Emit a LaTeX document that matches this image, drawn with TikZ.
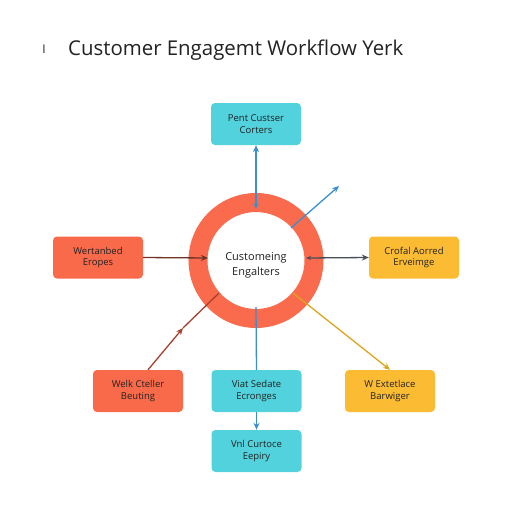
\documentclass[tikz,border=0pt]{standalone}
\usepackage{fontspec}
\setmainfont{Open Sans}
\usetikzlibrary{arrows.meta}
\definecolor{ringc}{HTML}{FA6A4C}
\definecolor{redbox}{HTML}{F96A4B}
\definecolor{cyanbox}{HTML}{52D2DC}
\definecolor{yelbox}{HTML}{FBBB33}
\definecolor{bluel}{HTML}{3A8FD0}
\definecolor{brownl}{HTML}{6E3426}
\definecolor{grayl}{HTML}{4A4E58}
\definecolor{redl}{HTML}{A8402E}
\definecolor{goldl}{HTML}{DDA51E}
\definecolor{txt}{HTML}{222222}
\begin{document}
\begin{tikzpicture}[x=1pt,y=-1pt,
  boxst/.style={rounded corners=4pt, minimum width=90pt, minimum height=42pt,
    inner sep=0pt, align=center, font=\fontsize{9.5}{11.5}\selectfont, text=txt},
  conn/.style={line width=1.3pt, -{Stealth[length=7pt,width=6pt]}}]
\useasboundingbox[fill=white] (0,0) rectangle (512,512);
% title
\node[anchor=base west, font=\fontsize{20.4}{24}\selectfont, text=txt, inner sep=0pt] (title) at (68,55) {Customer Engagemt Workflow Yerk};
\node[anchor=base, font=\fontsize{12}{14}\selectfont, text=txt, inner sep=0pt] (bar) at (44,53) {I};
% ring
\node[circle, draw=ringc, line width=19pt, minimum size=116pt, inner sep=0pt] (ring) at (256,260.5) {};
\node[align=center, font=\fontsize{11}{15}\selectfont, text=txt] (ctext) at (256,265) {Customeing\\Engalters};
% boxes
\node[boxst, fill=cyanbox] (top) at (256,124) {Pent Custser\\Corters};
\node[boxst, fill=redbox] (left) at (98,257.5) {Wertanbed\\Eropes};
\node[boxst, fill=yelbox] (right) at (414,257.5) {Crofal Aorred\\Erveimge};
\node[boxst, fill=redbox] (bl) at (138,391) {Welk Cteller\\Beuting};
\node[boxst, fill=cyanbox] (bc) at (256.5,391) {Viat Sedate\\Ecronges};
\node[boxst, fill=yelbox] (br) at (390,391) {W Extetlace\\Barwiger};
\node[boxst, fill=cyanbox] (bot) at (256.5,451) {Vnl Curtoce\\Eepiry};
% coordinates on ring
\coordinate (rtop) at (256,209);
\coordinate (rleft) at (208,258);
\coordinate (rright) at (306,258);
\coordinate (rdiag) at (291,228);
\coordinate (dfree) at (339,186);
\coordinate (rbl) at (219,293);
\coordinate (blmid) at (183,328);
\coordinate (rbr) at (293,293);
\coordinate (rbot) at (256,307);
% connectors
\draw[conn, bluel, {Stealth[length=6pt,width=5pt]}-{Stealth[length=7pt,width=6pt]}] (rtop) -- (top.south);
\draw[conn, bluel] (rdiag) -- (dfree);
\draw[conn, brownl] (left.east) -- (rleft);
\draw[conn, grayl, {Stealth[length=5pt,width=4pt]}-{Stealth[length=7pt,width=6pt]}] (rright) -- (right.west);
\draw[conn, redl] (bl.north) ++(10,0) coordinate (blst) (blst) -- (blmid);
\draw[line width=1.3pt, redl] (blmid) -- (rbl);
\draw[conn, goldl] (rbr) -- (br.north);
\draw[line width=1.3pt, bluel] (rbot) -- (bc.north);
\draw[conn, bluel] (bc.south) -- (bot.north);
\end{tikzpicture}
\end{document}
